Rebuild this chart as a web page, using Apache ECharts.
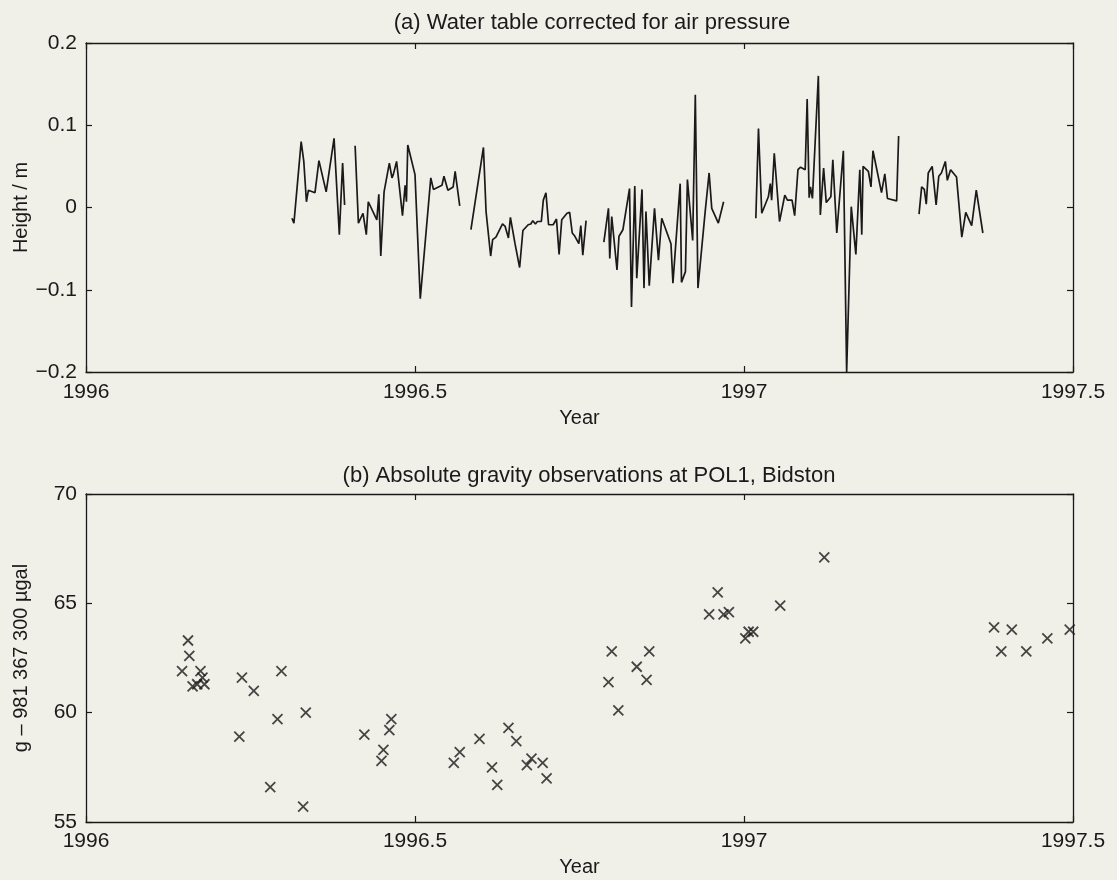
<!DOCTYPE html>
<html>
<head>
<meta charset="utf-8">
<script src="https://cdn.jsdelivr.net/npm/echarts@6/dist/echarts.min.js"></script>
<style>
  html, body { margin: 0; padding: 0; background: #f0efe8; }
  #chart { width: 1117px; height: 880px; }
</style>
</head>
<body>
<div id="chart"></div>
<script>
// ---- Panel (a): water table height (m); null marks a gap in the record ----
const waterYear = [
  1996.313, 1996.316, 1996.327, 1996.331, 1996.335, 1996.338, 1996.348, 1996.354, 1996.365, 1996.377, 1996.385, 1996.390, 1996.393,
  1996.400,
  1996.409, 1996.414, 1996.421, 1996.426, 1996.429, 1996.442, 1996.445, 1996.448, 1996.453, 1996.461, 1996.465, 1996.467, 1996.472, 1996.476, 1996.481, 1996.485, 1996.487, 1996.489, 1996.500, 1996.508, 1996.524, 1996.528, 1996.541, 1996.544, 1996.550, 1996.558, 1996.561, 1996.568,
  1996.576,
  1996.585, 1996.604, 1996.608, 1996.615, 1996.618, 1996.623, 1996.633, 1996.637, 1996.642, 1996.645, 1996.652, 1996.659, 1996.664, 1996.672, 1996.676, 1996.679, 1996.683, 1996.686, 1996.692, 1996.695, 1996.699, 1996.703, 1996.710, 1996.715, 1996.719, 1996.723, 1996.731, 1996.735, 1996.739, 1996.743, 1996.749, 1996.752, 1996.755, 1996.760,
  1996.773,
  1996.787, 1996.794, 1996.796, 1996.799, 1996.807, 1996.810, 1996.816, 1996.826, 1996.829, 1996.834, 1996.837, 1996.845, 1996.848, 1996.851, 1996.856, 1996.864, 1996.870, 1996.875, 1996.889, 1996.892, 1996.903, 1996.905, 1996.911, 1996.914, 1996.922, 1996.926, 1996.930, 1996.941, 1996.943, 1996.947, 1996.951, 1996.961, 1996.969,
  1996.990,
  1997.018, 1997.022, 1997.027, 1997.037, 1997.040, 1997.042, 1997.046, 1997.054, 1997.062, 1997.066, 1997.073, 1997.077, 1997.082, 1997.086, 1997.093, 1997.096, 1997.099, 1997.101, 1997.104, 1997.113, 1997.116, 1997.121, 1997.125, 1997.132, 1997.135, 1997.141, 1997.151, 1997.156, 1997.163, 1997.170, 1997.176, 1997.179, 1997.181, 1997.189, 1997.193, 1997.196, 1997.209, 1997.214, 1997.218, 1997.232, 1997.235,
  1997.250,
  1997.266, 1997.270, 1997.274, 1997.277, 1997.280, 1997.286, 1997.292, 1997.296, 1997.300, 1997.306, 1997.309, 1997.314, 1997.323, 1997.331, 1997.337, 1997.346, 1997.353, 1997.363
];
const waterHeight = [
  -0.013, -0.019, 0.080, 0.056, 0.007, 0.021, 0.018, 0.057, 0.019, 0.084, -0.033, 0.054, 0.003,
  null,
  0.075, -0.019, -0.007, -0.033, 0.007, -0.015, 0.016, -0.059, 0.019, 0.054, 0.036, 0.040, 0.056, 0.027, -0.010, 0.027, 0.007, 0.076, 0.040, -0.111, 0.036, 0.022, 0.027, 0.038, 0.021, 0.025, 0.044, 0.002,
  null,
  -0.027, 0.073, -0.005, -0.059, -0.039, -0.036, -0.020, -0.023, -0.037, -0.012, -0.044, -0.073, -0.028, -0.021, -0.020, -0.016, -0.020, -0.017, -0.017, 0.009, 0.018, -0.021, -0.021, -0.014, -0.057, -0.015, -0.007, -0.006, -0.031, -0.035, -0.044, -0.022, -0.058, -0.016,
  null,
  -0.042, -0.001, -0.062, -0.011, -0.076, -0.035, -0.027, 0.023, -0.121, 0.026, -0.086, 0.022, -0.098, -0.005, -0.095, -0.001, -0.064, -0.013, -0.044, -0.092, 0.029, -0.091, -0.078, 0.034, -0.040, 0.137, -0.098, -0.005, -0.007, 0.042, -0.001, -0.019, 0.007,
  null,
  -0.013, 0.096, -0.007, 0.013, 0.029, 0.009, 0.066, -0.017, 0.015, 0.009, 0.009, -0.010, 0.046, 0.049, 0.046, 0.132, 0.012, 0.025, 0.011, 0.160, -0.009, 0.048, 0.006, 0.013, 0.058, -0.031, 0.069, -0.200, 0.001, -0.057, 0.046, -0.033, 0.050, 0.044, 0.025, 0.069, 0.018, 0.041, 0.011, 0.008, 0.087,
  null,
  -0.008, 0.025, 0.022, 0.004, 0.042, 0.050, 0.003, 0.038, 0.042, 0.056, 0.033, 0.046, 0.037, -0.036, -0.006, -0.022, 0.021, -0.031
];

// ---- Panel (b): absolute gravity observations (g - 981 367 300 µgal) ----
const gravYear = [
  1996.146, 1996.155, 1996.157, 1996.162, 1996.169, 1996.174, 1996.177, 1996.180,
  1996.233, 1996.237, 1996.255, 1996.280, 1996.291, 1996.297, 1996.330, 1996.334,
  1996.423, 1996.449, 1996.452, 1996.461, 1996.464,
  1996.559, 1996.568, 1996.598, 1996.617, 1996.625, 1996.642, 1996.654, 1996.670, 1996.677, 1996.694, 1996.700,
  1996.794, 1996.799, 1996.809, 1996.837, 1996.852, 1996.856,
  1996.947, 1996.960, 1996.969, 1996.977, 1997.002, 1997.007, 1997.014, 1997.055, 1997.122,
  1997.380, 1997.391, 1997.407, 1997.429, 1997.461, 1997.495
];
const gravValue = [
  61.9, 63.3, 62.6, 61.2, 61.3, 61.9, 61.6, 61.3,
  58.9, 61.6, 61.0, 56.6, 59.7, 61.9, 55.7, 60.0,
  59.0, 57.8, 58.3, 59.2, 59.7,
  57.7, 58.2, 58.8, 57.5, 56.7, 59.3, 58.7, 57.6, 57.9, 57.7, 57.0,
  61.4, 62.8, 60.1, 62.1, 61.5, 62.8,
  64.5, 65.5, 64.5, 64.6, 63.4, 63.7, 63.7, 64.9, 67.1,
  63.9, 62.8, 63.8, 62.8, 63.4, 63.8
];

// ---- Axis ticks ----
const xTicks = [1996, 1996.5, 1997, 1997.5];
const waterTicks = [-0.2, -0.1, 0, 0.1, 0.2];
const gravTicks = [55, 60, 65, 70];

const FONT = '"Liberation Sans", Arial, Helvetica, sans-serif';
const INK = '#1a1a1a';

const waterData = waterYear.map((y, i) => [y, waterHeight[i] === null ? '-' : waterHeight[i]]);
const gravData = gravYear.map((y, i) => [y, gravValue[i]]);

function fmtX(v) {
  const r = Math.round(v * 10) / 10;
  return xTicks.includes(r) ? String(r) : '';
}

function boxAxis(base) {
  return Object.assign({
    axisLine: { show: true, onZero: false, lineStyle: { color: INK, width: 1.3 } },
    axisTick: { show: true, inside: true, length: 6, lineStyle: { color: INK, width: 1.2 } },
    splitLine: { show: false },
    nameMoveOverlap: false
  }, base);
}

const labelStyle = { color: INK, fontFamily: FONT, fontSize: 21 };
const nameStyle = { color: INK, fontFamily: FONT, fontSize: 20 };

const chart = echarts.init(document.getElementById('chart'), null, { renderer: 'canvas' });

chart.setOption({
  backgroundColor: '#f0efe8',
  animation: false,
  title: [
    { text: '(a) Water table corrected for air pressure', left: 587, top: 7, textAlign: 'center',
      textStyle: { color: INK, fontFamily: FONT, fontSize: 22, fontWeight: 'normal' } },
    { text: '(b) Absolute gravity observations at POL1, Bidston', left: 584, top: 460, textAlign: 'center',
      textStyle: { color: INK, fontFamily: FONT, fontSize: 22, fontWeight: 'normal' } }
  ],
  grid: [
    { left: 86, top: 43, width: 987, height: 329, containLabel: false, outerBoundsMode: 'none' },
    { left: 86, top: 494, width: 987, height: 328, containLabel: false, outerBoundsMode: 'none' }
  ],
  xAxis: [
    boxAxis({ type: 'value', gridIndex: 0, position: 'bottom', min: 1996, max: 1997.5, interval: 0.5,
      name: 'Year', nameLocation: 'middle', nameGap: 36, nameTextStyle: nameStyle,
      axisLabel: Object.assign({ margin: 10, formatter: fmtX }, labelStyle) }),
    boxAxis({ type: 'value', gridIndex: 0, position: 'top', min: 1996, max: 1997.5, interval: 0.5,
      axisLabel: { show: false } }),
    boxAxis({ type: 'value', gridIndex: 1, position: 'bottom', min: 1996, max: 1997.5, interval: 0.5,
      name: 'Year', nameLocation: 'middle', nameGap: 35, nameTextStyle: nameStyle,
      axisLabel: Object.assign({ margin: 9, formatter: fmtX }, labelStyle) }),
    boxAxis({ type: 'value', gridIndex: 1, position: 'top', min: 1996, max: 1997.5, interval: 0.5,
      axisLabel: { show: false } })
  ],
  yAxis: [
    boxAxis({ type: 'value', gridIndex: 0, position: 'left', min: -0.2, max: 0.2, interval: 0.1,
      name: 'Height / m', nameLocation: 'middle', nameGap: 55, nameRotate: 90, nameTextStyle: nameStyle,
      axisLabel: Object.assign({ margin: 9, formatter: v => {
        const r = Math.round(v * 10) / 10;
        return waterTicks.includes(r) ? (r < 0 ? '\u2212' + Math.abs(r) : String(r)) : '';
      } }, labelStyle) }),
    boxAxis({ type: 'value', gridIndex: 0, position: 'right', min: -0.2, max: 0.2, interval: 0.1,
      axisLabel: { show: false } }),
    boxAxis({ type: 'value', gridIndex: 1, position: 'left', min: 55, max: 70, interval: 5,
      name: 'g \u2013 981 367 300 \u00b5gal', nameLocation: 'middle', nameGap: 55, nameRotate: 90,
      nameTextStyle: nameStyle,
      axisLabel: Object.assign({ margin: 9, formatter: v => gravTicks.includes(v) ? String(v) : '' }, labelStyle) }),
    boxAxis({ type: 'value', gridIndex: 1, position: 'right', min: 55, max: 70, interval: 5,
      axisLabel: { show: false } })
  ],
  series: [
    {
      type: 'line', xAxisIndex: 0, yAxisIndex: 0, data: waterData,
      showSymbol: false, connectNulls: false, clip: true,
      lineStyle: { color: INK, width: 1.7 }
    },
    {
      type: 'scatter', xAxisIndex: 2, yAxisIndex: 2, data: gravData,
      symbol: 'path://M0,0L10,10M10,0L0,10', symbolSize: 10,
      itemStyle: { color: 'rgba(0,0,0,0)', borderColor: INK, borderWidth: 1.8 }
    }
  ]
});
</script>
</body>
</html>
